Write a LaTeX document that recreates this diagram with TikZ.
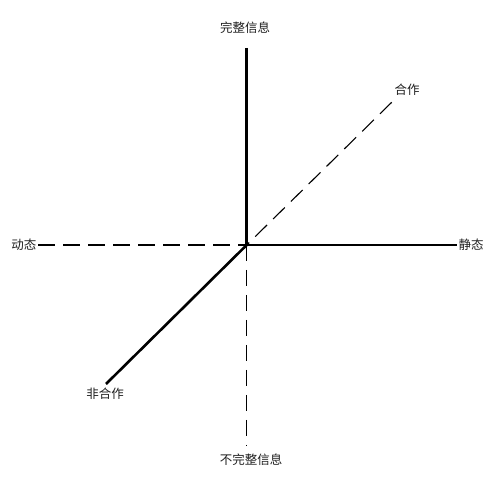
\documentclass[tikz,border=0pt]{standalone}
\usepackage{fontspec}
\newfontfamily\cjk{Noto Sans CJK SC}
\begin{document}
\begin{tikzpicture}[x=1pt,y=-1pt,
  lbl/.style={font=\cjk\fontsize{12.5}{14}\selectfont, text=black!88, inner sep=0pt},
  axis/.style={line width=2.6pt, black},
  dax/.style={line width=1.1pt, black, dash pattern=on 16.5pt off 8.5pt}]
\useasboundingbox (0,0) rectangle (499,489);
\coordinate (O) at (246.7,245);
\coordinate (topend) at (246.7,48);
\coordinate (rightend) at (456.5,245);
\coordinate (leftend) at (38,245);
\coordinate (botend) at (246.7,446);
\coordinate (neend) at (392,102);
\coordinate (swend) at (106,384);
\node[lbl] (wanzheng) at (245,28) {完整信息};
\node[lbl] (hezuo) at (407,90) {合作};
\node[lbl] (dongtai) at (24,245) {动态};
\node[lbl] (jingtai) at (471,245) {静态};
\node[lbl] (feihezuo) at (105,394) {非合作};
\node[lbl] (buwanzheng) at (251,460) {不完整信息};
\draw[axis] (topend) -- (O);
\draw[axis] (O) -- (rightend);
\draw[axis] (O) -- (swend);
\draw[dax] (leftend) -- (O);
\draw[dax] (O) -- (botend);
\draw[dax, dash phase=13pt] (O) -- (neend);
\end{tikzpicture}
\end{document}
